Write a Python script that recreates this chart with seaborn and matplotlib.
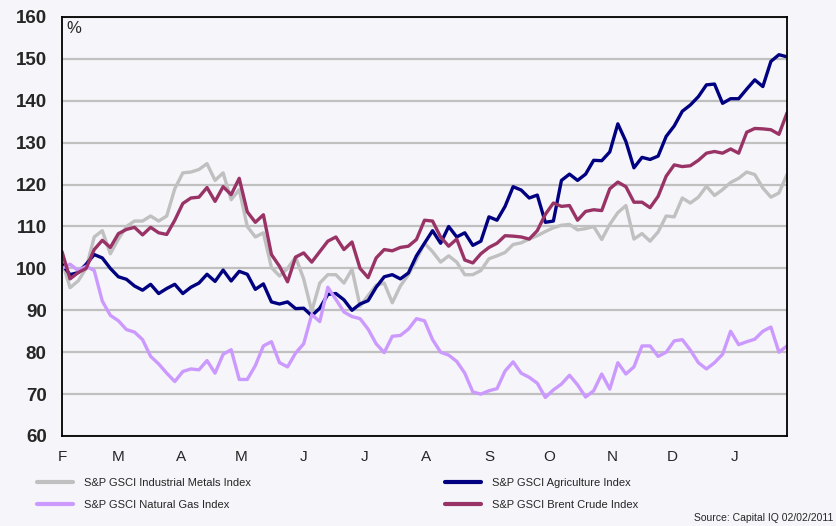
import pandas as pd
import matplotlib
matplotlib.use("Agg")
import matplotlib.pyplot as plt
from matplotlib.lines import Line2D
import seaborn as sns

# ------------------------
# Data (index levels, one value every 4 days)
# ------------------------
start_date = "2010-02-01"

metals = [101.7, 95.4, 97.0, 100.0, 107.5, 109.0, 103.5, 107.0, 110.0, 111.3,
          111.3, 112.5, 111.3, 112.5, 119.0, 122.8, 123.0, 123.6, 125.0, 121.0,
          122.8, 116.4, 118.8, 110.0, 107.5, 108.5, 100.2, 98.2, 100.0, 102.7,
          97.5, 89.8, 96.5, 98.5, 98.5, 96.5, 99.8, 91.0, 93.5, 96.0,
          96.5, 91.8, 95.8, 98.5, 102.1, 106.0, 104.0, 101.5, 103.0, 101.5,
          98.5, 98.5, 99.5, 102.3, 103.0, 103.8, 105.7, 106.1, 107.0, 107.8,
          108.8, 109.7, 110.3, 110.5, 109.2, 109.5, 110.0, 106.9, 110.5, 113.3,
          115.0, 107.0, 108.3, 106.5, 108.7, 112.5, 112.3, 116.8, 115.6, 117.0,
          119.6, 117.4, 118.8, 120.5, 121.5, 123.0, 122.4, 119.2, 117.0, 118.0,
          122.4]

agriculture = [101.0, 98.5, 99.0, 101.0, 103.3, 102.5, 100.0, 98.0, 97.4, 95.8,
               94.8, 96.2, 94.0, 95.2, 96.2, 94.0, 95.5, 96.5, 98.6, 96.9,
               99.6, 97.0, 99.3, 98.6, 95.0, 96.3, 92.0, 91.5, 92.0, 90.4,
               90.5, 88.7, 90.5, 93.8, 94.0, 92.5, 90.0, 91.5, 92.3, 95.5,
               98.0, 98.5, 97.5, 98.9, 103.0, 106.0, 109.0, 106.0, 110.0, 107.5,
               108.5, 105.5, 106.5, 112.3, 111.5, 114.8, 119.5, 118.7, 116.8, 117.5,
               111.0, 111.3, 121.0, 122.5, 121.0, 122.5, 125.8, 125.7, 127.8, 134.5,
               130.3, 124.0, 126.5, 126.0, 126.8, 131.5, 134.0, 137.5, 139.0, 141.0,
               143.8, 144.0, 139.4, 140.5, 140.5, 142.8, 145.0, 143.4, 149.4, 151.0,
               150.5]

natural_gas = [100.0, 101.0, 99.5, 100.5, 99.5, 92.2, 88.8, 87.5, 85.4, 84.8,
               83.0, 79.0, 77.2, 75.0, 73.0, 75.4, 76.0, 75.8, 78.0, 75.0,
               79.5, 80.6, 73.5, 73.5, 76.8, 81.5, 82.5, 77.5, 76.5, 79.8,
               82.0, 89.0, 87.3, 95.5, 92.6, 89.6, 88.5, 88.0, 85.5, 82.0,
               79.9, 83.8, 84.0, 85.5, 88.0, 87.5, 83.0, 80.0, 79.3, 77.8,
               75.0, 70.5, 70.0, 70.8, 71.3, 75.5, 77.7, 75.0, 74.0, 72.6,
               69.2, 71.0, 72.4, 74.5, 72.2, 69.3, 70.8, 74.8, 71.2, 77.5,
               74.8, 76.5, 81.5, 81.5, 79.0, 80.0, 82.7, 83.0, 80.5, 77.5,
               76.0, 77.5, 79.5, 85.0, 81.8, 82.5, 83.1, 85.0, 86.0, 80.0,
               81.5]

brent = [104.0, 97.5, 99.0, 100.0, 104.5, 106.7, 105.0, 108.3, 109.3, 109.8,
         108.0, 109.8, 108.5, 108.1, 111.5, 115.5, 116.8, 117.0, 119.3, 116.0,
         119.5, 117.6, 121.5, 113.5, 111.0, 112.8, 103.3, 100.5, 96.8, 102.7,
         103.7, 101.5, 104.0, 106.5, 107.5, 104.5, 106.3, 100.0, 97.8, 102.5,
         104.5, 104.2, 105.0, 105.3, 106.9, 111.5, 111.3, 107.5, 105.3, 107.0,
         102.0, 101.3, 103.5, 105.0, 106.0, 107.8, 107.7, 107.5, 107.0, 109.0,
         112.9, 115.6, 114.8, 115.0, 111.5, 113.6, 114.0, 113.8, 119.0, 120.6,
         119.5, 115.8, 115.8, 114.5, 117.2, 122.0, 124.7, 124.3, 124.5, 125.8,
         127.5, 127.9, 127.5, 128.5, 127.5, 132.5, 133.4, 133.3, 133.1, 132.0,
         137.1]

series_names = ["S&P GSCI Industrial Metals Index", "S&P GSCI Agriculture Index",
                "S&P GSCI Natural Gas Index", "S&P GSCI Brent Crude Index"]
series_colors = ["#C0C0C0", "#000080", "#CC99FF", "#993366"]
month_labels = ["F", "M", "A", "M", "J", "J", "A", "S", "O", "N", "D", "J"]
source_note = "Source: Capital IQ 02/02/2011"

# ------------------------
# Build long dataframe
# ------------------------
dates = pd.date_range(start_date, periods=len(metals), freq="4D")
wide = pd.DataFrame({"date": dates,
                     series_names[0]: metals,
                     series_names[1]: agriculture,
                     series_names[2]: natural_gas,
                     series_names[3]: brent})
df = wide.melt(id_vars="date", var_name="series", value_name="value")

# ------------------------
# Plot
# ------------------------
sns.set_theme(style="white")
plt.rcParams["font.family"] = ["Liberation Sans", "DejaVu Sans"]
narrow = ["Liberation Sans Narrow", "Liberation Sans", "DejaVu Sans"]
bg = "#F5F5FA"

fig = plt.figure(figsize=(8.37, 5.26), dpi=100, facecolor=bg)
ax = fig.add_axes([62 / 837, 1 - 436 / 526, 725 / 837, 419 / 526])
ax.set_facecolor(bg)

sns.lineplot(data=df, x="date", y="value", hue="series", hue_order=series_names,
             palette=series_colors, linewidth=2.4, legend=False, ax=ax)

# y axis
ax.set_ylim(60, 160)
ax.set_yticks(range(60, 161, 10))
ax.set_yticklabels([str(v) for v in range(60, 161, 10)], fontsize=13.5, fontweight="bold")
ax.yaxis.grid(True, color="#C0C0C0", linewidth=1.6)
ax.set_axisbelow(True)
ax.tick_params(axis="y", length=5, width=1, color="#808080", pad=6)

# x axis
month_starts = pd.date_range("2010-02-01", periods=len(month_labels), freq="MS")
ax.set_xlim(dates[0], dates[-1])
ax.set_xticks(month_starts)
ax.set_xticklabels(month_labels, fontsize=11, family=narrow)
ax.tick_params(axis="x", length=5, width=1, color="#808080", pad=5)
ax.set_xlabel("")
ax.set_ylabel("")

for sp in ax.spines.values():
    sp.set_visible(True)
    sp.set_color("black")
    sp.set_linewidth(1.3)

ax.text(4 / 725, 1 - 4 / 419, "%", transform=ax.transAxes, ha="left", va="top", fontsize=12)

# legend in two columns below the chart
handles = [Line2D([], [], color=c, linewidth=3) for c in series_colors]
leg_kw = dict(loc="upper left", frameon=False, borderpad=0, borderaxespad=0,
              handlelength=3.2, handletextpad=1.0, labelspacing=1.05,
              prop={"family": narrow, "size": 8})
leg1 = fig.legend([handles[0], handles[2]], [series_names[0], series_names[2]],
                  bbox_to_anchor=(37 / 837, 1 - 478 / 526), **leg_kw)
leg2 = fig.legend([handles[1], handles[3]], [series_names[1], series_names[3]],
                  bbox_to_anchor=(445 / 837, 1 - 478 / 526), **leg_kw)

fig.text(833 / 837, 1 - 518 / 526, source_note, ha="right", va="center",
         fontsize=7.5, family=narrow)

fig.savefig("out.png", dpi=100, facecolor=bg)
